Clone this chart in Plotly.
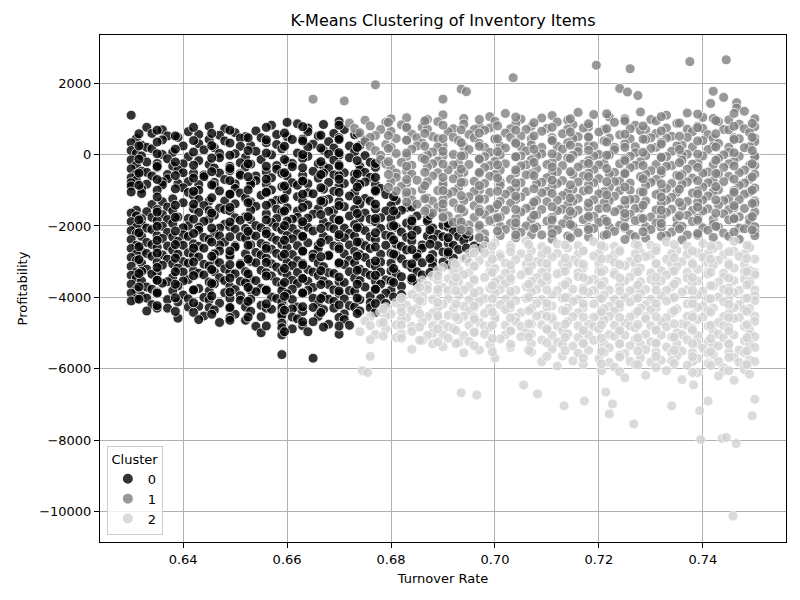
import plotly.graph_objects as go

# points, (turnover rate, profitability)
cluster0_points = [
    (0.630, 1100),
    (0.633, 760), (0.645, 790), (0.657, 820), (0.660, 900), (0.662, 860), (0.667, 840), (0.670, 930),
    (0.636, 690), (0.648, 720), (0.654, 660), (0.664, 740), (0.671, 700),
    (0.634, 590), (0.637, 520), (0.641, 640), (0.643, 560), (0.647, 540), (0.650, 610), (0.652, 500),
    (0.655, 470), (0.658, 560), (0.664, 640), (0.666, 520), (0.669, 590), (0.673, 550),
    (0.631, 450), (0.639, 480), (0.645, 420), (0.651, 460), (0.660, 500), (0.663, 430), (0.670, 470),
    (0.630, 330), (0.632, 260), (0.636, 410), (0.643, 300), (0.648, 380), (0.653, 250), (0.656, 330),
    (0.661, 420), (0.665, 290), (0.668, 360), (0.672, 240), (0.675, 400),
    (0.633, 200), (0.640, 240), (0.646, 190), (0.651, 230), (0.658, 280), (0.664, 210), (0.669, 180),
    (0.674, 250),
    (0.630, 110), (0.631, 30), (0.634, 160), (0.638, 60), (0.644, 130), (0.650, 20), (0.654, 90),
    (0.659, 160), (0.662, 40), (0.667, 120), (0.670, -20), (0.673, 80),
    (0.632, -40), (0.636, 0), (0.641, -60), (0.647, 30), (0.652, -80), (0.657, -10), (0.664, -50),
    (0.668, 10), (0.675, -30),
    (0.630, -150), (0.633, -210), (0.637, -120), (0.640, -260), (0.643, -170), (0.647, -90), (0.651, -230),
    (0.655, -140), (0.660, -200), (0.663, -110), (0.666, -260), (0.669, -160), (0.672, -90), (0.676, -220),
    (0.631, -300), (0.635, -250), (0.638, -330), (0.645, -280), (0.649, -330), (0.653, -270), (0.658, -310),
    (0.661, -250), (0.667, -320), (0.670, -280), (0.674, -330),
    (0.630, -400), (0.632, -470), (0.635, -360), (0.639, -430), (0.642, -520), (0.646, -380), (0.649, -450),
    (0.652, -350), (0.656, -490), (0.658, -410), (0.661, -340), (0.665, -470), (0.668, -390), (0.671, -510),
    (0.674, -430), (0.677, -360),
    (0.631, -550), (0.633, -500), (0.637, -560), (0.640, -510), (0.644, -570), (0.647, -520), (0.651, -540),
    (0.654, -600), (0.659, -530), (0.663, -580), (0.667, -520), (0.669, -570), (0.673, -550), (0.675, -500),
    (0.630, -650), (0.631, -720), (0.634, -600), (0.637, -680), (0.641, -760), (0.644, -620), (0.648, -700),
    (0.651, -580), (0.654, -730), (0.657, -650), (0.660, -600), (0.663, -750), (0.666, -660), (0.670, -590),
    (0.673, -720), (0.676, -640),
    (0.630, -790), (0.633, -830), (0.636, -760), (0.639, -810), (0.643, -840), (0.646, -780), (0.650, -820),
    (0.653, -770), (0.656, -830), (0.661, -790), (0.664, -820), (0.668, -780), (0.671, -810), (0.675, -770),
    (0.677, -840),
    (0.630, -880), (0.632, -960), (0.636, -850), (0.640, -930), (0.643, -1000), (0.646, -870), (0.650, -950),
    (0.653, -840), (0.657, -990), (0.659, -900), (0.662, -860), (0.667, -970), (0.670, -890), (0.674, -830),
    (0.678, -950),
    (0.630, -1050), (0.635, -1000), (0.641, -1060), (0.647, -1020), (0.651, -1080), (0.656, -1040),
    (0.660, -1010), (0.664, -1070), (0.669, -1030), (0.673, -1060), (0.677, -1040),
    (0.632, -1090), (0.638, -1240), (0.642, -1150), (0.645, -1300), (0.649, -1110), (0.652, -1220),
    (0.655, -1140), (0.658, -1280), (0.662, -1180), (0.665, -1100), (0.668, -1250), (0.672, -1160),
    (0.675, -1230), (0.679, -1120),
    (0.636, -1320), (0.643, -1260), (0.648, -1300), (0.653, -1330), (0.659, -1260), (0.663, -1300),
    (0.667, -1280), (0.670, -1320), (0.676, -1300), (0.681, -1290),
    (0.634, -1400), (0.637, -1470), (0.640, -1350), (0.644, -1430), (0.647, -1500), (0.650, -1380),
    (0.654, -1450), (0.657, -1360), (0.660, -1490), (0.664, -1410), (0.667, -1340), (0.671, -1460),
    (0.674, -1390), (0.677, -1520), (0.680, -1430), (0.683, -1480),
    (0.631, -1560), (0.635, -1540), (0.638, -1580), (0.642, -1520), (0.645, -1570), (0.648, -1540),
    (0.653, -1560), (0.658, -1530), (0.662, -1580), (0.666, -1520), (0.669, -1560), (0.673, -1540),
    (0.679, -1580), (0.682, -1560),
    (0.630, -1640), (0.631, -1720), (0.633, -1600), (0.636, -1680), (0.639, -1750), (0.643, -1620),
    (0.646, -1700), (0.649, -1580), (0.652, -1740), (0.656, -1660), (0.659, -1610), (0.662, -1760),
    (0.665, -1670), (0.668, -1590), (0.672, -1720), (0.675, -1640), (0.678, -1770), (0.681, -1680),
    (0.685, -1720),
    (0.632, -1800), (0.634, -1760), (0.637, -1820), (0.641, -1790), (0.645, -1810), (0.650, -1770),
    (0.653, -1820), (0.658, -1790), (0.661, -1810), (0.664, -1780), (0.669, -1800), (0.674, -1790),
    (0.676, -1810), (0.680, -1790), (0.684, -1820), (0.687, -1800),
    (0.630, -1880), (0.632, -1960), (0.635, -1850), (0.638, -1930), (0.641, -2000), (0.644, -1870),
    (0.648, -1950), (0.651, -1840), (0.654, -1990), (0.657, -1900), (0.660, -1860), (0.663, -1970),
    (0.667, -1890), (0.670, -1830), (0.673, -1960), (0.677, -1880), (0.680, -2010), (0.683, -1920),
    (0.687, -1870), (0.690, -1980),
    (0.631, -2040), (0.633, -2060), (0.636, -2010), (0.640, -2050), (0.643, -2030), (0.647, -2060),
    (0.649, -2020), (0.652, -2070), (0.655, -2050), (0.658, -2030), (0.661, -2070), (0.664, -2040),
    (0.668, -2010), (0.671, -2060), (0.674, -2040), (0.678, -2070), (0.681, -2040), (0.684, -2020),
    (0.688, -2060), (0.691, -2030), (0.693, -2070),
    (0.630, -2130), (0.631, -2210), (0.634, -2100), (0.637, -2180), (0.640, -2250), (0.643, -2120),
    (0.646, -2200), (0.650, -2090), (0.653, -2240), (0.656, -2150), (0.659, -2110), (0.662, -2220),
    (0.665, -2140), (0.669, -2080), (0.672, -2210), (0.675, -2130), (0.679, -2260), (0.682, -2170),
    (0.685, -2120), (0.689, -2230), (0.692, -2160),
    (0.632, -2290), (0.635, -2270), (0.638, -2310), (0.641, -2290), (0.644, -2320), (0.647, -2280),
    (0.651, -2300), (0.654, -2280), (0.657, -2310), (0.660, -2270), (0.663, -2300), (0.667, -2290),
    (0.670, -2310), (0.673, -2280), (0.676, -2300), (0.680, -2290), (0.683, -2320), (0.687, -2280),
    (0.690, -2300), (0.693, -2290), (0.695, -2310),
    (0.630, -2380), (0.633, -2460), (0.636, -2350), (0.639, -2430), (0.642, -2500), (0.645, -2370),
    (0.648, -2450), (0.652, -2340), (0.655, -2490), (0.658, -2400), (0.661, -2360), (0.664, -2470),
    (0.668, -2390), (0.671, -2330), (0.674, -2460), (0.677, -2380), (0.681, -2510), (0.684, -2420),
    (0.688, -2370), (0.691, -2480), (0.694, -2410),
    (0.631, -2540), (0.634, -2520), (0.637, -2560), (0.640, -2540), (0.643, -2570), (0.647, -2530),
    (0.650, -2550), (0.653, -2530), (0.656, -2560), (0.659, -2520), (0.662, -2550), (0.666, -2540),
    (0.669, -2560), (0.672, -2530), (0.675, -2550), (0.679, -2540), (0.682, -2570), (0.686, -2530),
    (0.689, -2550), (0.692, -2540), (0.696, -2560), (0.698, -2500),
    (0.630, -2630), (0.632, -2710), (0.635, -2600), (0.638, -2680), (0.641, -2750), (0.644, -2620),
    (0.647, -2700), (0.650, -2590), (0.654, -2740), (0.657, -2650), (0.660, -2610), (0.663, -2720),
    (0.666, -2640), (0.670, -2580), (0.673, -2710), (0.676, -2630), (0.680, -2760), (0.683, -2670),
    (0.686, -2620), (0.690, -2730), (0.693, -2660), (0.697, -2620),
    (0.631, -2790), (0.633, -2770), (0.636, -2810), (0.639, -2790), (0.642, -2820), (0.646, -2780),
    (0.649, -2800), (0.652, -2780), (0.655, -2810), (0.658, -2770), (0.661, -2800), (0.665, -2790),
    (0.668, -2810), (0.671, -2780), (0.674, -2800), (0.678, -2790), (0.681, -2820), (0.685, -2780),
    (0.688, -2800), (0.691, -2790), (0.695, -2770),
    (0.630, -2880), (0.631, -2960), (0.634, -2850), (0.637, -2930), (0.640, -3000), (0.643, -2870),
    (0.646, -2950), (0.649, -2840), (0.653, -2990), (0.656, -2900), (0.659, -2860), (0.662, -2970),
    (0.665, -2890), (0.668, -2830), (0.672, -2960), (0.675, -2880), (0.678, -3010), (0.682, -2920),
    (0.685, -2870), (0.688, -2980), (0.692, -2900),
    (0.632, -3040), (0.635, -3020), (0.638, -3060), (0.641, -3040), (0.644, -3070), (0.647, -3030),
    (0.651, -3050), (0.654, -3030), (0.657, -3060), (0.660, -3020), (0.663, -3050), (0.666, -3040),
    (0.670, -3060), (0.673, -3030), (0.676, -3050), (0.680, -3040), (0.683, -3070), (0.686, -3030),
    (0.690, -3010),
    (0.630, -3130), (0.633, -3210), (0.636, -3100), (0.639, -3180), (0.642, -3250), (0.645, -3120),
    (0.648, -3200), (0.651, -3090), (0.655, -3240), (0.658, -3150), (0.661, -3110), (0.664, -3220),
    (0.667, -3140), (0.671, -3080), (0.674, -3210), (0.677, -3130), (0.680, -3260), (0.684, -3170),
    (0.688, -3120),
    (0.631, -3290), (0.632, -3270), (0.635, -3310), (0.640, -3290), (0.643, -3320), (0.646, -3280),
    (0.649, -3300), (0.652, -3280), (0.656, -3310), (0.659, -3270), (0.662, -3300), (0.665, -3290),
    (0.668, -3310), (0.672, -3280), (0.675, -3300), (0.678, -3290), (0.681, -3320), (0.685, -3280),
    (0.689, -3260),
    (0.630, -3380), (0.631, -3460), (0.634, -3350), (0.638, -3430), (0.641, -3500), (0.644, -3370),
    (0.647, -3450), (0.650, -3340), (0.653, -3490), (0.657, -3400), (0.660, -3360), (0.663, -3470),
    (0.666, -3390), (0.669, -3330), (0.673, -3460), (0.676, -3380), (0.679, -3510), (0.682, -3420),
    (0.686, -3370),
    (0.632, -3540), (0.635, -3520), (0.637, -3560), (0.640, -3540), (0.645, -3570), (0.648, -3530),
    (0.651, -3550), (0.654, -3530), (0.658, -3560), (0.661, -3520), (0.664, -3550), (0.667, -3540),
    (0.670, -3560), (0.674, -3530), (0.677, -3550), (0.680, -3540), (0.684, -3520),
    (0.630, -3630), (0.633, -3710), (0.636, -3600), (0.639, -3680), (0.643, -3750), (0.646, -3620),
    (0.649, -3700), (0.652, -3590), (0.655, -3740), (0.659, -3650), (0.662, -3610), (0.665, -3720),
    (0.668, -3640), (0.671, -3580), (0.675, -3710), (0.678, -3630), (0.682, -3690), (0.685, -3600),
    (0.631, -3790), (0.634, -3770), (0.638, -3810), (0.642, -3790), (0.645, -3820), (0.650, -3780),
    (0.653, -3800), (0.656, -3780), (0.659, -3810), (0.661, -3770), (0.664, -3800), (0.669, -3790),
    (0.672, -3810), (0.677, -3780), (0.680, -3800),
    (0.630, -3880), (0.632, -3960), (0.635, -3850), (0.640, -3930), (0.644, -4000), (0.648, -3870),
    (0.651, -3950), (0.654, -3840), (0.657, -3990), (0.660, -3900), (0.663, -3860), (0.667, -3970),
    (0.670, -3890), (0.673, -3830), (0.676, -3960), (0.679, -3880), (0.682, -3920),
    (0.631, -4040), (0.633, -4020), (0.637, -4060), (0.641, -4040), (0.645, -4070), (0.649, -4030),
    (0.653, -4050), (0.658, -4030), (0.661, -4060), (0.665, -4020), (0.668, -4050), (0.671, -4040),
    (0.674, -4060), (0.678, -4030),
    (0.630, -4100), (0.634, -4200), (0.639, -4130), (0.643, -4250), (0.647, -4160), (0.651, -4080),
    (0.655, -4220), (0.659, -4140), (0.662, -4270), (0.666, -4180), (0.669, -4110), (0.672, -4230),
    (0.676, -4150), (0.679, -4170),
    (0.637, -4300), (0.641, -4270), (0.645, -4290), (0.649, -4310), (0.652, -4270), (0.656, -4300),
    (0.659, -4290), (0.661, -4320), (0.665, -4280), (0.669, -4300), (0.673, -4270), (0.676, -4290),
    (0.633, -4380), (0.635, -4300), (0.642, -4420), (0.646, -4350), (0.650, -4470), (0.653, -4390),
    (0.657, -4330), (0.659, -4450), (0.663, -4400), (0.667, -4340), (0.671, -4460), (0.674, -4380),
    (0.677, -4420),
    (0.644, -4520), (0.649, -4560), (0.655, -4540), (0.659, -4510), (0.661, -4550), (0.666, -4530),
    (0.670, -4560),
    (0.639, -4580), (0.643, -4620), (0.647, -4700), (0.652, -4640), (0.659, -4720), (0.662, -4600),
    (0.665, -4680), (0.668, -4750), (0.671, -4620),
    (0.654, -4810), (0.659, -4850), (0.663, -4790), (0.667, -4830), (0.672, -4780),
    (0.655, -4990), (0.659, -5050), (0.661, -4880), (0.664, -4960), (0.670, -5030),
    (0.659, -5600), (0.665, -5700),
]

# further points of cluster 0, read column by column: (turnover rate, [profitability, ...])
cluster0_columns = [
    (0.6315, [580, 240, -130, -520, -860, -1830, -2190, -2580, -2940, -3330, -3710, -4050]),
    (0.6350, [680, 350, 20, -330, -700, -1190, -1610, -2010, -2400, -2760, -3160, -3520, -3880, -4230]),
    (0.6385, [520, 150, -210, -590, -960, -1420, -1760, -2140, -2520, -2900, -3280, -3630, -4010, -4390]),
    (0.6420, [760, 390, 70, -300, -660, -1030, -1390, -1810, -2210, -2620, -3010, -3390, -3790, -4150]),
    (0.6455, [590, 250, -100, -480, -850, -1210, -1640, -2060, -2450, -2850, -3220, -3610, -3960, -4470]),
    (0.6490, [680, 320, -20, -390, -730, -1110, -1480, -1890, -2300, -2700, -3080, -3460, -3850, -4280, -4640]),
    (0.6525, [470, 110, -260, -620, -990, -1350, -1740, -2150, -2540, -2930, -3340, -3720, -4110, -4550]),
    (0.6560, [760, 410, 40, -330, -690, -1060, -1420, -1830, -2220, -2630, -3020, -3400, -3800, -4180, -4800]),
    (0.6595, [600, 230, -140, -510, -880, -1230, -1580, -1990, -2400, -2790, -3190, -3580, -3970, -4360, -4960]),
    (0.6630, [780, 380, 0, -370, -740, -1110, -1480, -1880, -2290, -2700, -3090, -3470, -3880, -4260, -4680]),
    (0.6665, [540, 180, -200, -560, -930, -1300, -1680, -2070, -2460, -2860, -3250, -3640, -4030, -4420]),
    (0.6700, [820, 420, 50, -320, -690, -1060, -1430, -1840, -2240, -2640, -3030, -3430, -3820, -4210, -4800]),
    (0.6735, [590, 200, -170, -540, -910, -1280, -1650, -2050, -2450, -2840, -3240, -3630, -4020, -4450]),
    (0.6770, [-250, -640, -1010, -1390, -1790, -2190, -2590, -2980, -3380, -3770, -4170]),
    (0.6805, [-1180, -1580, -1990, -2390, -2790, -3190, -3580, -3990]),
    (0.6840, [-1470, -1860, -2260, -2660, -3060, -3460]),
    (0.6875, [-1700, -2110, -2510, -2910, -3300]),
    (0.6910, [-1930, -2330, -2730, -3090]),
    (0.6945, [-2230, -2620, -2900]),
]

cluster1_points = [
    (0.677, 1950), (0.665, 1550), (0.671, 1500), (0.690, 1550), (0.6935, 1830), (0.6945, 1760),
    (0.7035, 2150), (0.7195, 2500), (0.726, 2400), (0.7375, 2600), (0.7445, 2650), (0.724, 1850),
    (0.7255, 1750), (0.7275, 1650), (0.742, 1770), (0.744, 1600), (0.7465, 1450), (0.7415, 1430),
    (0.7465, 1300),
    (0.683, 1030), (0.690, 1110), (0.699, 1060), (0.702, 1150), (0.711, 1090), (0.716, 1180),
    (0.719, 1120), (0.722, 1050), (0.728, 1190), (0.733, 1100), (0.737, 1160), (0.740, 1040),
    (0.748, 1210),
    (0.675, 960), (0.680, 1000), (0.687, 980), (0.694, 1010), (0.705, 990), (0.709, 1020), (0.714, 960),
    (0.725, 1000), (0.730, 980), (0.742, 1010), (0.745, 970), (0.750, 1000),
    (0.672, 880), (0.676, 800), (0.679, 900), (0.682, 830), (0.686, 760), (0.689, 920), (0.694, 850),
    (0.697, 780), (0.700, 930), (0.704, 860), (0.707, 790), (0.712, 910), (0.715, 840), (0.718, 770),
    (0.723, 900), (0.727, 820), (0.731, 940), (0.735, 870), (0.739, 790), (0.743, 920), (0.747, 850),
    (0.750, 780),
    (0.673, 730), (0.678, 700), (0.683, 740), (0.687, 710), (0.692, 720), (0.696, 700), (0.699, 740),
    (0.703, 720), (0.706, 700), (0.710, 730), (0.714, 710), (0.717, 740), (0.721, 700), (0.726, 720),
    (0.729, 700), (0.733, 740), (0.737, 710), (0.740, 730), (0.744, 700), (0.748, 720),
    (0.674, 610), (0.677, 530), (0.680, 650), (0.684, 570), (0.688, 500), (0.691, 640), (0.695, 560),
    (0.698, 680), (0.702, 600), (0.705, 520), (0.709, 650), (0.713, 580), (0.716, 500), (0.720, 630),
    (0.724, 550), (0.728, 670), (0.731, 590), (0.734, 510), (0.738, 640), (0.741, 560), (0.745, 690),
    (0.749, 610),
    (0.676, 480), (0.681, 450), (0.685, 470), (0.689, 440), (0.692, 480), (0.696, 460), (0.700, 450),
    (0.703, 480), (0.707, 440), (0.711, 470), (0.715, 450), (0.718, 480), (0.722, 460), (0.726, 440),
    (0.730, 470), (0.733, 460), (0.737, 480), (0.742, 450), (0.746, 470), (0.750, 460),
    (0.675, 360), (0.679, 280), (0.683, 400), (0.686, 320), (0.690, 250), (0.693, 390), (0.697, 310),
    (0.700, 430), (0.704, 350), (0.707, 270), (0.711, 400), (0.714, 330), (0.718, 250), (0.721, 380),
    (0.725, 300), (0.729, 420), (0.732, 340), (0.736, 260), (0.740, 390), (0.743, 310), (0.747, 440),
    (0.750, 360),
    (0.676, 230), (0.680, 200), (0.685, 240), (0.689, 210), (0.694, 220), (0.698, 200), (0.701, 240),
    (0.705, 220), (0.709, 200), (0.712, 230), (0.716, 210), (0.719, 240), (0.723, 200), (0.727, 220),
    (0.731, 200), (0.735, 240), (0.738, 210), (0.742, 230), (0.745, 200), (0.749, 220),
    (0.677, 110), (0.681, 30), (0.684, 150), (0.688, 70), (0.692, 0), (0.695, 140), (0.699, 60),
    (0.702, 180), (0.706, 100), (0.709, 20), (0.713, 150), (0.716, 80), (0.720, 0), (0.723, 130),
    (0.727, 50), (0.730, 170), (0.734, 90), (0.737, 10), (0.741, 140), (0.745, 60), (0.748, 190),
    (0.678, -20), (0.683, -50), (0.687, -10), (0.690, -40), (0.694, -30), (0.698, -60), (0.701, -10),
    (0.705, -40), (0.708, -30), (0.712, -60), (0.715, -20), (0.719, -40), (0.722, -10), (0.726, -50),
    (0.729, -30), (0.733, -60), (0.736, -20), (0.740, -40), (0.744, -10), (0.747, -50), (0.750, -30),
    (0.678, -140), (0.682, -220), (0.686, -100), (0.689, -180), (0.693, -250), (0.697, -110),
    (0.700, -190), (0.704, -70), (0.707, -150), (0.711, -230), (0.714, -100), (0.718, -170),
    (0.721, -250), (0.725, -120), (0.728, -200), (0.732, -80), (0.736, -160), (0.739, -240),
    (0.743, -110), (0.746, -190), (0.750, -60),
    (0.679, -270), (0.684, -300), (0.688, -260), (0.692, -290), (0.695, -280), (0.699, -310),
    (0.702, -260), (0.706, -290), (0.710, -280), (0.713, -310), (0.717, -270), (0.720, -290),
    (0.724, -260), (0.727, -300), (0.731, -280), (0.734, -310), (0.738, -270), (0.742, -290),
    (0.745, -260), (0.749, -300),
    (0.680, -390), (0.683, -470), (0.687, -350), (0.691, -430), (0.694, -500), (0.698, -360),
    (0.701, -440), (0.705, -320), (0.708, -400), (0.712, -480), (0.716, -350), (0.719, -420),
    (0.723, -500), (0.726, -370), (0.730, -450), (0.733, -330), (0.737, -410), (0.741, -490),
    (0.744, -360), (0.748, -440), (0.750, -310),
    (0.681, -520), (0.684, -550), (0.689, -510), (0.693, -540), (0.697, -530), (0.700, -560),
    (0.704, -510), (0.707, -540), (0.711, -530), (0.715, -560), (0.718, -520), (0.722, -540),
    (0.725, -510), (0.729, -550), (0.732, -530), (0.736, -560), (0.740, -520), (0.743, -540),
    (0.747, -510), (0.750, -550),
    (0.681, -640), (0.685, -720), (0.688, -600), (0.692, -680), (0.696, -750), (0.699, -610),
    (0.703, -690), (0.706, -570), (0.710, -650), (0.713, -730), (0.717, -600), (0.720, -670),
    (0.724, -750), (0.728, -620), (0.731, -700), (0.735, -580), (0.738, -660), (0.742, -740),
    (0.745, -610), (0.749, -690),
    (0.680, -770), (0.683, -800), (0.687, -760), (0.690, -790), (0.694, -780), (0.698, -810),
    (0.701, -760), (0.705, -790), (0.709, -780), (0.712, -810), (0.716, -770), (0.719, -790),
    (0.723, -760), (0.726, -800), (0.730, -780), (0.734, -810), (0.737, -770), (0.741, -790),
    (0.744, -760), (0.748, -800),
    (0.682, -890), (0.686, -970), (0.690, -850), (0.693, -930), (0.697, -1000), (0.701, -860),
    (0.704, -940), (0.708, -820), (0.711, -900), (0.715, -980), (0.718, -850), (0.722, -920),
    (0.726, -1000), (0.729, -870), (0.733, -950), (0.736, -830), (0.740, -910), (0.743, -990),
    (0.747, -860), (0.750, -940),
    (0.681, -1020), (0.684, -1050), (0.689, -1010), (0.692, -1040), (0.696, -1030), (0.699, -1060),
    (0.703, -1010), (0.706, -1040), (0.710, -1030), (0.714, -1060), (0.717, -1020), (0.721, -1040),
    (0.724, -1010), (0.728, -1050), (0.732, -1030), (0.735, -1060), (0.739, -1020), (0.742, -1040),
    (0.746, -1010), (0.749, -1050),
    (0.683, -1140), (0.687, -1220), (0.691, -1100), (0.695, -1180), (0.698, -1250), (0.702, -1110),
    (0.705, -1190), (0.709, -1070), (0.713, -1150), (0.716, -1230), (0.720, -1100), (0.723, -1170),
    (0.727, -1250), (0.731, -1120), (0.734, -1200), (0.738, -1080), (0.741, -1160), (0.745, -1240),
    (0.748, -1110),
    (0.684, -1270), (0.688, -1300), (0.690, -1260), (0.694, -1290), (0.697, -1280), (0.701, -1310),
    (0.704, -1260), (0.708, -1290), (0.712, -1280), (0.715, -1310), (0.719, -1270), (0.722, -1290),
    (0.726, -1260), (0.729, -1300), (0.733, -1280), (0.737, -1310), (0.740, -1270), (0.744, -1290),
    (0.747, -1260), (0.750, -1300),
    (0.685, -1390), (0.689, -1470), (0.692, -1350), (0.696, -1430), (0.700, -1500), (0.703, -1360),
    (0.707, -1440), (0.710, -1320), (0.714, -1400), (0.718, -1480), (0.721, -1350), (0.725, -1420),
    (0.728, -1500), (0.732, -1370), (0.736, -1450), (0.739, -1330), (0.743, -1410), (0.746, -1490),
    (0.750, -1360),
    (0.687, -1520), (0.690, -1550), (0.693, -1510), (0.697, -1540), (0.699, -1530), (0.702, -1560),
    (0.706, -1510), (0.709, -1540), (0.713, -1530), (0.716, -1560), (0.720, -1520), (0.724, -1540),
    (0.727, -1510), (0.731, -1550), (0.734, -1530), (0.738, -1560), (0.741, -1520), (0.745, -1540),
    (0.748, -1510),
    (0.688, -1640), (0.691, -1720), (0.694, -1600), (0.698, -1680), (0.701, -1750), (0.705, -1610),
    (0.708, -1690), (0.712, -1570), (0.715, -1650), (0.719, -1730), (0.723, -1600), (0.726, -1670),
    (0.730, -1750), (0.733, -1620), (0.737, -1700), (0.740, -1580), (0.744, -1660), (0.747, -1740),
    (0.750, -1610),
    (0.690, -1770), (0.693, -1800), (0.696, -1760), (0.700, -1790), (0.704, -1780), (0.707, -1810),
    (0.711, -1760), (0.714, -1790), (0.718, -1780), (0.721, -1810), (0.725, -1770), (0.728, -1790),
    (0.732, -1760), (0.735, -1800), (0.739, -1780), (0.742, -1810), (0.746, -1770), (0.749, -1790),
    (0.692, -1890), (0.695, -1970), (0.699, -1850), (0.703, -1930), (0.706, -2000), (0.710, -1860),
    (0.713, -1940), (0.717, -1820), (0.720, -1900), (0.724, -1980), (0.727, -1850), (0.731, -1920),
    (0.735, -2000), (0.738, -1870), (0.742, -1950), (0.745, -1830), (0.749, -1910),
    (0.694, -2020), (0.697, -2050), (0.701, -2010), (0.704, -2040), (0.708, -2030), (0.711, -2060),
    (0.715, -2010), (0.718, -2040), (0.722, -2030), (0.725, -2060), (0.729, -2020), (0.732, -2040),
    (0.736, -2010), (0.740, -2050), (0.743, -2030), (0.747, -2060), (0.750, -2020),
    (0.695, -2140), (0.698, -2220), (0.702, -2100), (0.705, -2180), (0.709, -2250), (0.712, -2110),
    (0.716, -2190), (0.719, -2070), (0.723, -2150), (0.726, -2230), (0.730, -2100), (0.734, -2170),
    (0.737, -2250), (0.741, -2120), (0.744, -2200), (0.748, -2080), (0.750, -2160),
    (0.697, -2300), (0.701, -2270), (0.707, -2250), (0.714, -2280), (0.721, -2260), (0.727, -2300),
    (0.733, -2270), (0.739, -2260), (0.745, -2290), (0.750, -2270),
    (0.698, -2400), (0.704, -2330), (0.711, -2370), (0.718, -2310), (0.725, -2380), (0.729, -2340),
    (0.736, -2390), (0.742, -2320), (0.747, -2370),
]

cluster1_columns = [
    (0.6795, [900, 530, 170, -200, -560, -920]),
    (0.6830, [760, 400, 40, -330, -700, -1060, -1330]),
    (0.6865, [940, 590, 230, -140, -500, -870, -1240, -1580]),
    (0.6900, [820, 450, 90, -270, -640, -1010, -1380, -1750]),
    (0.6935, [690, 330, -40, -410, -780, -1150, -1520, -1890, -2100]),
    (0.6970, [980, 600, 230, -130, -500, -870, -1240, -1610, -1980, -2330]),
    (0.7005, [800, 440, 80, -290, -660, -1030, -1400, -1770, -2140]),
    (0.7040, [1050, 680, 310, -60, -430, -800, -1170, -1540, -1910, -2250]),
    (0.7075, [890, 520, 150, -220, -590, -960, -1330, -1700, -2070]),
    (0.7110, [760, 390, 20, -350, -720, -1090, -1460, -1830, -2210]),
    (0.7145, [1000, 630, 260, -110, -480, -850, -1220, -1590, -1960, -2330]),
    (0.7180, [860, 490, 120, -250, -620, -990, -1360, -1730, -2100]),
    (0.7215, [1140, 720, 350, -20, -390, -760, -1130, -1500, -1870, -2240]),
    (0.7250, [940, 570, 200, -170, -540, -910, -1280, -1650, -2020]),
    (0.7285, [800, 430, 60, -310, -680, -1050, -1420, -1790, -2160]),
    (0.7320, [1060, 660, 290, -80, -450, -820, -1190, -1560, -1930, -2290]),
    (0.7355, [880, 510, 140, -230, -600, -970, -1340, -1710, -2080]),
    (0.7390, [1130, 750, 380, 10, -360, -730, -1100, -1470, -1840, -2210]),
    (0.7425, [950, 580, 210, -160, -530, -900, -1270, -1640, -2010]),
    (0.7460, [1150, 790, 420, 50, -320, -690, -1060, -1430, -1800, -2170]),
    (0.7495, [870, 480, 110, -260, -630, -1000, -1370, -1740, -2110]),
]

cluster2_points = [
    (0.700, -2480), (0.706, -2420), (0.712, -2500), (0.719, -2440), (0.727, -2510), (0.733, -2450),
    (0.740, -2490), (0.746, -2430),
    (0.698, -2570), (0.703, -2540), (0.709, -2580), (0.716, -2550), (0.723, -2570), (0.730, -2540),
    (0.737, -2560), (0.743, -2550), (0.749, -2570),
    (0.696, -2660), (0.699, -2720), (0.703, -2610), (0.707, -2690), (0.710, -2750), (0.714, -2620),
    (0.717, -2700), (0.721, -2590), (0.724, -2670), (0.728, -2740), (0.731, -2610), (0.735, -2680),
    (0.739, -2750), (0.742, -2630), (0.746, -2710), (0.749, -2600),
    (0.695, -2790), (0.698, -2760), (0.701, -2800), (0.705, -2780), (0.709, -2810), (0.712, -2770),
    (0.716, -2790), (0.720, -2770), (0.723, -2800), (0.727, -2780), (0.730, -2810), (0.734, -2770),
    (0.737, -2790), (0.741, -2770), (0.744, -2800), (0.748, -2780),
    (0.694, -2910), (0.697, -2970), (0.701, -2860), (0.704, -2940), (0.708, -3000), (0.711, -2870),
    (0.715, -2950), (0.719, -2840), (0.722, -2920), (0.726, -2990), (0.729, -2860), (0.733, -2930),
    (0.736, -3000), (0.740, -2880), (0.743, -2960), (0.747, -2850), (0.750, -2930),
    (0.692, -3040), (0.695, -3020), (0.699, -3060), (0.702, -3040), (0.706, -3070), (0.709, -3030),
    (0.713, -3050), (0.716, -3030), (0.720, -3060), (0.723, -3020), (0.727, -3050), (0.731, -3040),
    (0.734, -3060), (0.738, -3030), (0.741, -3050), (0.745, -3040), (0.748, -3070),
    (0.690, -3160), (0.693, -3220), (0.696, -3110), (0.700, -3190), (0.703, -3250), (0.707, -3120),
    (0.710, -3200), (0.714, -3090), (0.717, -3170), (0.721, -3240), (0.725, -3110), (0.728, -3180),
    (0.732, -3250), (0.735, -3130), (0.739, -3210), (0.742, -3100), (0.746, -3180), (0.749, -3240),
    (0.689, -3290), (0.692, -3270), (0.695, -3310), (0.699, -3290), (0.702, -3320), (0.706, -3280),
    (0.709, -3300), (0.713, -3280), (0.716, -3310), (0.720, -3270), (0.723, -3300), (0.727, -3290),
    (0.730, -3310), (0.734, -3280), (0.737, -3300), (0.741, -3290), (0.744, -3320), (0.748, -3280),
    (0.750, -3300),
    (0.688, -3410), (0.691, -3470), (0.694, -3360), (0.698, -3440), (0.701, -3500), (0.705, -3370),
    (0.708, -3450), (0.712, -3340), (0.716, -3420), (0.719, -3490), (0.723, -3360), (0.726, -3430),
    (0.730, -3500), (0.733, -3380), (0.737, -3460), (0.741, -3350), (0.744, -3430), (0.748, -3490),
    (0.750, -3370),
    (0.686, -3540), (0.689, -3520), (0.693, -3560), (0.696, -3540), (0.700, -3570), (0.703, -3530),
    (0.707, -3550), (0.710, -3530), (0.714, -3560), (0.718, -3520), (0.721, -3550), (0.725, -3540),
    (0.728, -3560), (0.732, -3530), (0.735, -3550), (0.739, -3540), (0.743, -3570), (0.746, -3530),
    (0.749, -3550),
    (0.687, -3660), (0.690, -3720), (0.692, -3610), (0.695, -3690), (0.699, -3750), (0.702, -3620),
    (0.706, -3700), (0.709, -3590), (0.713, -3670), (0.717, -3740), (0.720, -3610), (0.724, -3680),
    (0.727, -3750), (0.731, -3630), (0.734, -3710), (0.738, -3600), (0.742, -3680), (0.745, -3740),
    (0.749, -3620),
    (0.685, -3790), (0.687, -3770), (0.691, -3810), (0.694, -3790), (0.697, -3820), (0.701, -3780),
    (0.704, -3800), (0.708, -3780), (0.712, -3810), (0.715, -3770), (0.719, -3800), (0.722, -3790),
    (0.726, -3810), (0.729, -3780), (0.733, -3800), (0.737, -3790), (0.740, -3820), (0.744, -3780),
    (0.747, -3800), (0.750, -3790),
    (0.684, -3910), (0.686, -3970), (0.689, -3860), (0.693, -3940), (0.696, -4000), (0.700, -3870),
    (0.703, -3950), (0.707, -3840), (0.711, -3920), (0.714, -3990), (0.718, -3860), (0.721, -3930),
    (0.725, -4000), (0.728, -3880), (0.732, -3960), (0.736, -3850), (0.739, -3930), (0.743, -3990),
    (0.746, -3870), (0.750, -3950),
    (0.682, -4040), (0.685, -4020), (0.688, -4060), (0.691, -4040), (0.695, -4070), (0.698, -4030),
    (0.702, -4050), (0.706, -4030), (0.709, -4060), (0.713, -4020), (0.716, -4050), (0.720, -4040),
    (0.723, -4060), (0.727, -4030), (0.730, -4050), (0.734, -4040), (0.738, -4070), (0.741, -4030),
    (0.745, -4050), (0.748, -4040),
    (0.681, -4160), (0.683, -4220), (0.686, -4110), (0.690, -4190), (0.694, -4250), (0.697, -4120),
    (0.701, -4200), (0.704, -4090), (0.708, -4170), (0.711, -4240), (0.715, -4110), (0.719, -4180),
    (0.722, -4250), (0.726, -4130), (0.729, -4210), (0.733, -4100), (0.737, -4180), (0.740, -4240),
    (0.744, -4120), (0.747, -4200), (0.750, -4090),
    (0.679, -4290), (0.682, -4270), (0.685, -4310), (0.689, -4290), (0.692, -4320), (0.696, -4280),
    (0.699, -4300), (0.703, -4280), (0.707, -4310), (0.710, -4270), (0.714, -4300), (0.717, -4290),
    (0.721, -4310), (0.724, -4280), (0.728, -4300), (0.731, -4290), (0.735, -4320), (0.739, -4280),
    (0.742, -4300), (0.746, -4290), (0.749, -4310),
    (0.678, -4410), (0.680, -4470), (0.684, -4360), (0.688, -4440), (0.691, -4500), (0.695, -4370),
    (0.698, -4450), (0.702, -4340), (0.705, -4420), (0.709, -4490), (0.713, -4360), (0.716, -4430),
    (0.720, -4500), (0.723, -4380), (0.727, -4460), (0.730, -4350), (0.734, -4430), (0.738, -4490),
    (0.741, -4370), (0.745, -4450), (0.748, -4340),
    (0.676, -4540), (0.679, -4520), (0.683, -4560), (0.687, -4540), (0.689, -4570), (0.694, -4530),
    (0.696, -4550), (0.700, -4530), (0.704, -4560), (0.708, -4520), (0.711, -4550), (0.715, -4540),
    (0.719, -4560), (0.722, -4530), (0.726, -4550), (0.729, -4540), (0.733, -4570), (0.737, -4530),
    (0.740, -4550), (0.744, -4540), (0.747, -4560), (0.750, -4530),
    (0.675, -4660), (0.678, -4720), (0.682, -4610), (0.686, -4690), (0.690, -4750), (0.693, -4620),
    (0.697, -4700), (0.700, -4590), (0.704, -4670), (0.707, -4740), (0.711, -4610), (0.714, -4680),
    (0.718, -4750), (0.721, -4630), (0.725, -4710), (0.729, -4600), (0.732, -4680), (0.736, -4740),
    (0.739, -4620), (0.743, -4700), (0.746, -4590), (0.750, -4670),
    (0.676, -4790), (0.681, -4770), (0.684, -4810), (0.688, -4790), (0.691, -4820), (0.695, -4780),
    (0.698, -4800), (0.702, -4780), (0.705, -4810), (0.709, -4770), (0.712, -4800), (0.716, -4790),
    (0.719, -4810), (0.723, -4780), (0.726, -4800), (0.730, -4790), (0.733, -4820), (0.737, -4780),
    (0.741, -4800), (0.744, -4790), (0.748, -4810),
    (0.674, -4960), (0.679, -4880), (0.684, -4950), (0.688, -5000), (0.692, -4870), (0.696, -4950),
    (0.699, -4840), (0.703, -4920), (0.706, -4990), (0.710, -4860), (0.713, -4930), (0.717, -5000),
    (0.720, -4880), (0.724, -4960), (0.727, -4850), (0.731, -4930), (0.735, -4990), (0.738, -4870),
    (0.742, -4950), (0.745, -4840), (0.749, -4920),
    (0.677, -5040), (0.682, -5020), (0.687, -5060), (0.690, -5040), (0.694, -5070), (0.698, -5030),
    (0.702, -5050), (0.707, -5030), (0.711, -5060), (0.714, -5020), (0.718, -5050), (0.722, -5040),
    (0.725, -5060), (0.729, -5030), (0.732, -5050), (0.736, -5040), (0.739, -5070), (0.743, -5030),
    (0.746, -5050), (0.749, -5040),
    (0.676, -5180), (0.681, -5120), (0.686, -5200), (0.691, -5140), (0.695, -5230), (0.701, -5160),
    (0.705, -5100), (0.709, -5190), (0.712, -5250), (0.716, -5120), (0.719, -5200), (0.723, -5090),
    (0.727, -5170), (0.730, -5240), (0.734, -5110), (0.737, -5180), (0.741, -5250), (0.744, -5130),
    (0.748, -5210), (0.750, -5100),
    (0.688, -5300), (0.693, -5270), (0.699, -5310), (0.707, -5290), (0.713, -5320), (0.717, -5280),
    (0.721, -5300), (0.724, -5280), (0.728, -5310), (0.731, -5270), (0.735, -5300), (0.739, -5290),
    (0.742, -5310), (0.745, -5280), (0.749, -5300),
    (0.684, -5450), (0.690, -5380), (0.697, -5470), (0.703, -5400), (0.711, -5440), (0.715, -5360),
    (0.718, -5480), (0.722, -5410), (0.726, -5350), (0.729, -5460), (0.733, -5390), (0.736, -5500),
    (0.740, -5420), (0.743, -5360), (0.747, -5470), (0.750, -5400),
    (0.694, -5550), (0.707, -5530), (0.716, -5560), (0.721, -5540), (0.725, -5570), (0.731, -5530),
    (0.734, -5550), (0.738, -5540), (0.741, -5560), (0.745, -5530), (0.748, -5550),
    (0.676, -5650), (0.700, -5700), (0.713, -5640), (0.720, -5720), (0.724, -5610), (0.728, -5690),
    (0.732, -5760), (0.735, -5630), (0.739, -5710), (0.742, -5600), (0.746, -5680), (0.749, -5750),
    (0.709, -5800), (0.715, -5780), (0.722, -5820), (0.726, -5790), (0.730, -5810), (0.734, -5780),
    (0.738, -5800), (0.743, -5790), (0.747, -5820), (0.750, -5790),
    (0.712, -5920), (0.717, -5870), (0.723, -5950), (0.727, -5880), (0.731, -5960), (0.737, -5900),
    (0.741, -5850), (0.744, -5970), (0.748, -5900),
    (0.724, -6080), (0.733, -6050), (0.739, -6100), (0.744, -6060), (0.748, -6020),
    (0.7205, -6050), (0.725, -6250), (0.729, -6180), (0.736, -6300), (0.743, -6200), (0.746, -6320),
    (0.749, -6150),
    (0.6745, -6050), (0.6755, -6100), (0.6935, -6670), (0.6965, -6730), (0.7055, -6450), (0.7082, -6700),
    (0.7133, -7035), (0.7172, -6900), (0.7213, -6650), (0.722, -7260), (0.7226, -6980), (0.7267, -7540),
    (0.734, -7035), (0.7394, -7170), (0.7382, -6450), (0.741, -6900), (0.7396, -7980), (0.7437, -7950),
    (0.7445, -7920), (0.7464, -8090), (0.7458, -10120), (0.7495, -7310), (0.750, -6850),
]

cluster2_columns = [
    (0.6785, [-4330, -4700, -5080]),
    (0.6820, [-4030, -4400, -4770, -5140]),
    (0.6855, [-3720, -4090, -4460, -4830, -5200]),
    (0.6890, [-3400, -3770, -4140, -4510, -4880, -5250]),
    (0.6925, [-3070, -3440, -3810, -4180, -4550, -4920, -5290]),
    (0.6960, [-2760, -3130, -3500, -3870, -4240, -4610, -4980, -5350]),
    (0.6995, [-2560, -2930, -3300, -3670, -4040, -4410, -4780, -5150, -5520]),
    (0.7030, [-2720, -3090, -3460, -3830, -4200, -4570, -4940, -5310]),
    (0.7065, [-2520, -2890, -3260, -3630, -4000, -4370, -4740, -5110, -5480]),
    (0.7100, [-2680, -3050, -3420, -3790, -4160, -4530, -4900, -5270, -5650]),
    (0.7135, [-2530, -2900, -3270, -3640, -4010, -4380, -4750, -5120, -5490]),
    (0.7170, [-2700, -3070, -3440, -3810, -4180, -4550, -4920, -5290, -5700]),
    (0.7205, [-2550, -2920, -3290, -3660, -4030, -4400, -4770, -5140, -5510, -5860]),
    (0.7240, [-2710, -3080, -3450, -3820, -4190, -4560, -4930, -5300, -5670]),
    (0.7275, [-2540, -2910, -3280, -3650, -4020, -4390, -4760, -5130, -5500, -5880]),
    (0.7310, [-2690, -3060, -3430, -3800, -4170, -4540, -4910, -5280, -5650]),
    (0.7345, [-2520, -2890, -3260, -3630, -4000, -4370, -4740, -5110, -5480, -5850]),
    (0.7380, [-2700, -3070, -3440, -3810, -4180, -4550, -4920, -5290, -5660, -6100]),
    (0.7415, [-2560, -2930, -3300, -3670, -4040, -4410, -4780, -5150, -5520, -5900]),
    (0.7450, [-2720, -3090, -3460, -3830, -4200, -4570, -4940, -5310, -5680, -6050]),
    (0.7485, [-2540, -2910, -3280, -3650, -4020, -4390, -4760, -5130, -5500, -5880]),
]

cluster_names = ["0", "1", "2"]
cluster_points = [cluster0_points, cluster1_points, cluster2_points]
cluster_columns = [cluster0_columns, cluster1_columns, cluster2_columns]
cluster_colors = ["rgb(0,0,0)", "rgb(128,128,128)", "rgb(211,211,211)"]

x_ticks = [0.64, 0.66, 0.68, 0.70, 0.72, 0.74]
y_ticks = [-10000, -8000, -6000, -4000, -2000, 0, 2000]
y_tick_labels = ["\u221210000", "\u22128000", "\u22126000", "\u22124000", "\u22122000", "0", "2000"]

FONT = "DejaVu Sans, Liberation Sans, sans-serif"

fig = go.Figure()
for name, pts, cols, color in zip(cluster_names, cluster_points, cluster_columns, cluster_colors):
    xs = [p[0] for p in pts]
    ys = [p[1] for p in pts]
    for cx, cys in cols:
        xs += [cx] * len(cys)
        ys += cys
    fig.add_trace(go.Scatter(
        x=xs, y=ys,
        mode="markers",
        name=name,
        marker=dict(size=10, color=color, opacity=0.8,
                    line=dict(color="white", width=0.9)),
    ))

axis_common = dict(
    showline=True, linecolor="black", linewidth=1, mirror=True,
    showgrid=True, gridcolor="#b0b0b0", gridwidth=1,
    ticks="outside", ticklen=5, tickwidth=1, tickcolor="black",
    tickfont=dict(size=13, color="black", family=FONT),
    zeroline=False, automargin=False,
)

# the page body has an 8px margin, so the figure is a little smaller than the window
fig.update_layout(
    width=784, height=584,
    margin=dict(l=92, r=6, t=27, b=50),
    paper_bgcolor="white", plot_bgcolor="white",
    font=dict(family=FONT, color="black"),
    title=dict(text="K-Means Clustering of Inventory Items", x=0.5, xref="paper", xanchor="center",
               y=0.979, yanchor="middle", font=dict(size=16, color="black", family=FONT)),
    xaxis=dict(title=dict(text="Turnover Rate", font=dict(size=13), standoff=8),
               range=[0.624, 0.756], tickvals=x_ticks, tickformat=".2f", **axis_common),
    yaxis=dict(title=dict(text="Profitability", font=dict(size=13), standoff=8),
               range=[-10845, 3345], tickvals=y_ticks, ticktext=y_tick_labels, **axis_common),
    legend=dict(
        title=dict(text="Cluster", side="top center", font=dict(size=13)),
        x=0.01, y=0.014, xanchor="left", yanchor="bottom",
        bgcolor="rgba(255,255,255,0.8)", bordercolor="#cccccc", borderwidth=1,
        font=dict(size=13), itemsizing="constant",
    ),
    showlegend=True,
)

fig.write_html("out.html")
